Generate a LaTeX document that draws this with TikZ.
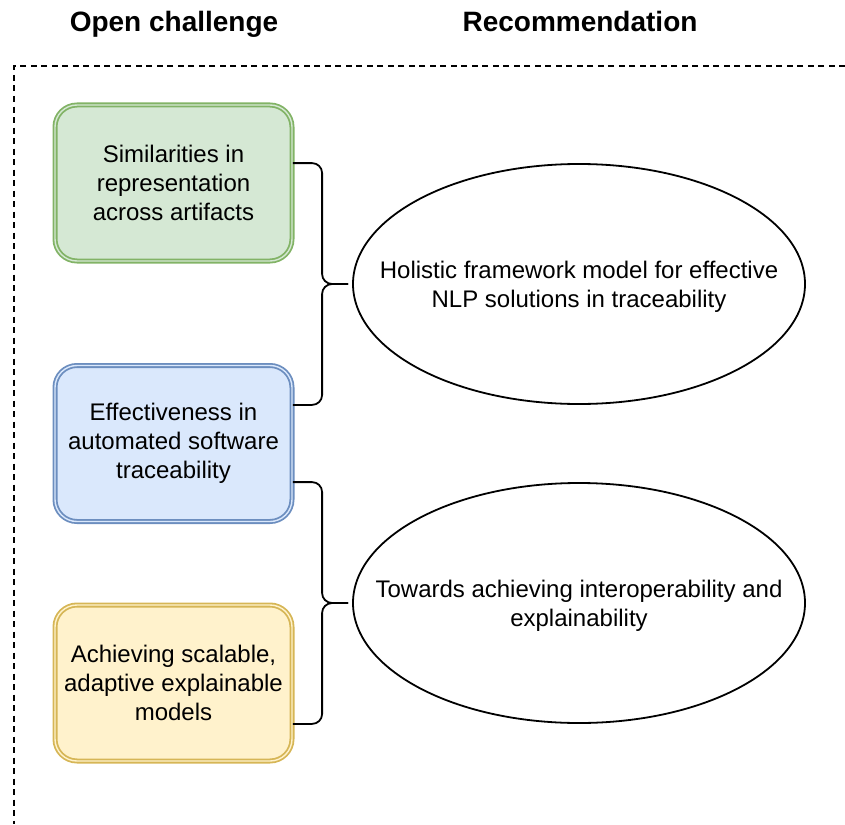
\documentclass[tikz,border=0pt]{standalone}
\usepackage{fontspec}
\setmainfont{Liberation Sans}
\usetikzlibrary{shapes.geometric,calc}
\definecolor{gfill}{HTML}{D5E8D4}\definecolor{gline}{HTML}{82B366}
\definecolor{bfill}{HTML}{DAE8FC}\definecolor{bline}{HTML}{6C8EBF}
\definecolor{yfill}{HTML}{FFF2CC}\definecolor{yline}{HTML}{D6B656}
\newcommand{\ctext}[1]{\makebox[0pt]{\raisebox{-3pt}[\height][\depth]{\begin{tabular}{@{}c@{}}#1\end{tabular}}}}
\begin{document}
\begin{tikzpicture}[x=1pt,y=-1pt,
  challenge/.style={rectangle,rounded corners=22pt,minimum width=237pt,minimum height=156pt,
    inner sep=0pt,align=center,line width=1.8pt,double distance=1.4pt,
    font=\fontsize{24}{29}\selectfont},
  recbox/.style={ellipse,draw=black,line width=1.8pt,minimum width=452pt,minimum height=240pt,
    inner sep=0pt,font=\fontsize{24}{29}\selectfont},
  heading/.style={font=\bfseries\fontsize{28}{32}\selectfont,inner sep=0pt,anchor=base},
  bracket/.style={draw=black,line width=1.8pt,rounded corners=10pt},
  frame/.style={draw=black,line width=2pt,dash pattern=on 6pt off 4.5pt}]
\useasboundingbox (0,0) rectangle (845,824);
\node[heading] (h1) at (174,32) {Open challenge};
\node[heading] (h2) at (580,32) {Recommendation};
\draw[frame] (845,66) -- (14,66) -- (14,824);
\node[challenge,draw=gline,double=gfill,fill=gfill] (g) at (173.5,183) {Similarities in\\representation\\across artifacts};
\node[challenge,draw=bline,double=bfill,fill=bfill] (b) at (173.5,443.5) {Effectiveness in\\automated software\\traceability};
\node[challenge,draw=yline,double=yfill,fill=yfill] (y) at (173.5,683) {Achieving scalable,\\adaptive explainable\\models};
\node[recbox] (e1) at (579,284) {\ctext{Holistic framework model for effective\\NLP solutions in traceability}};
\node[recbox] (e2) at (579,603) {\ctext{Towards achieving interoperability and\\explainability}};
\coordinate (t1) at ($(e1.west)+(-4,0)$);
\coordinate (t2) at ($(e2.west)+(-4,0)$);
\draw[bracket] (g.east |- e1.north) -| ($(t1)+(-26,0)$) -- (t1);
\draw[bracket] (b.east |- e1.south) -| ($(t1)+(-26,0)$) -- (t1);
\draw[bracket] (b.east |- e2.north) -| ($(t2)+(-26,0)$) -- (t2);
\draw[bracket] (y.east |- e2.south) -| ($(t2)+(-26,0)$) -- (t2);
\end{tikzpicture}
\end{document}
